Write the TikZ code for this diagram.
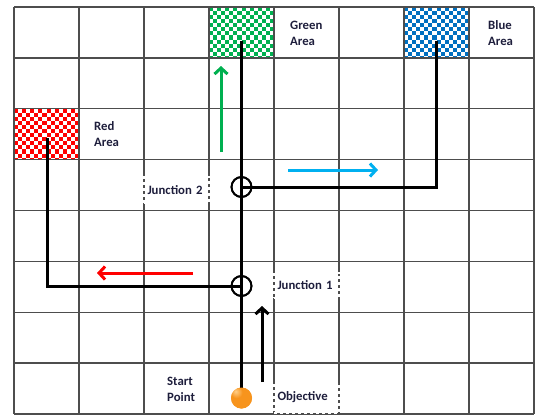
\documentclass[tikz,border=0pt]{standalone}
\usepackage{fontspec}
\setmainfont{Carlito}
\usetikzlibrary{arrows.meta}

\definecolor{gridc}{HTML}{4D4D4D}
\definecolor{labc}{HTML}{1E1E3C}
\definecolor{greenc}{HTML}{00B050}
\definecolor{bluec}{HTML}{0070C0}
\definecolor{skyc}{HTML}{00B0F0}
\definecolor{redc}{HTML}{FF0000}
\definecolor{ballhi}{HTML}{FFD08A}
\definecolor{ballmid}{HTML}{F7941D}
\definecolor{balldark}{HTML}{D86E08}

% glossy orange sphere, highlight towards the upper left
\pgfdeclareradialshading{orangeball}{\pgfpoint{-14bp}{16bp}}{%
  color(0bp)=(ballhi); color(14bp)=(ballmid); color(48bp)=(ballmid);
  color(66bp)=(balldark); color(100bp)=(balldark)}

% checkerboard fill of one grid cell: left, top, colour
\newcommand\checkercell[3]{%
  \begin{scope}
    \clip (#1,#2) rectangle ++(65,50.875);
    \foreach \j in {0,...,12}{
      \foreach \i in {0,...,15}{
        \ifodd\numexpr\i+\j\relax\else
          \fill[#3] ({#1+\i*4.0625},{#2+\j*4.07}) rectangle ++(4.0625,4.07);
        \fi
      }
    }
  \end{scope}}

\begin{document}
\begin{tikzpicture}[x=1bp,y=-1bp,
  gridline/.style={draw=gridc, line width=1.3bp},
  areabox/.style={rectangle, minimum width=65bp, minimum height=50.875bp, inner sep=0pt},
  route/.style={line width=3bp, black},
  junc/.style={circle, draw=black, line width=1.8bp, minimum size=20bp, inner sep=0pt},
  startball/.style={circle, inner sep=0pt, minimum size=21bp, shading=orangeball},
  dirarrow/.style={line width=3bp, -{Straight Barb[length=6bp,width=13bp]}},
  lab/.style={font=\fontsize{12.8}{16}\selectfont\bfseries, text=labc, inner sep=0pt, align=left},
  labbox/.style={lab, draw=white, dashed, line width=2bp, minimum width=65bp,
                 text width=58bp, inner xsep=3.5bp, align=left}]

\useasboundingbox (0,0) rectangle (538,418);
\fill[white] (0,0) rectangle (538,418);

% coloured target cells
\checkercell{209}{7}{greenc}
\checkercell{404}{7}{bluec}
\checkercell{14}{108.75}{redc}

% grid 8 x 8
\foreach \c in {0,...,8}
  \draw[gridline] ({14+65*\c},7) -- ({14+65*\c},414);
\foreach \r in {0,...,8}
  \draw[gridline] (14,{7+50.875*\r}) -- (534,{7+50.875*\r});

% target areas
\node[areabox] (greenarea) at (241.5,32.44) {};
\node[areabox] (bluearea) at (436.5,32.44) {};
\node[areabox] (redarea) at (46.5,134.19) {};

% route end points inside the areas
\coordinate (gtop) at (241.5,41);
\coordinate (btop) at (436.5,41);
\coordinate (rtop) at (47,138);

% junctions and start
\node[junc] (j2) at (241.5,187) {};
\node[junc] (j1) at (241.5,286) {};
\node[startball] (start) at (241.5,398) {};

% route
\draw[route] (start.center) -- (gtop);
\draw[route] (j2.center) -| (btop);
\draw[route] (j1.center) -| (rtop);
\node[junc] at (j2) {};
\node[junc] at (j1) {};
\node[startball] at (start) {};

% direction arrows
\coordinate (ga0) at (221,152);  \coordinate (ga1) at (221,66);
\coordinate (sa0) at (288,170);  \coordinate (sa1) at (378,170);
\coordinate (ra0) at (193,273);  \coordinate (ra1) at (97,273);
\coordinate (ka0) at (262,382);  \coordinate (ka1) at (262,306);
\draw[dirarrow, greenc] (ga0) -- (ga1);
\draw[dirarrow, skyc] (sa0) -- (sa1);
\draw[dirarrow, redc] (ra0) -- (ra1);
\draw[dirarrow, black] (ka0) -- (ka1);

% labels
\node[lab, anchor=west] (lgreen) at (290,33) {Green\\Area};
\node[lab, anchor=west] (lblue) at (488,33) {Blue\\Area};
\node[lab, anchor=west] (lred) at (94,134) {Red\\Area};
\node[lab, anchor=west] (lstart) at (167,389.5) {Start\\Point};
\node[labbox, minimum height=26bp] (lj2) at (176.5,190) {Junction 2};
\node[labbox, minimum height=25bp] (lj1) at (306.5,285.5) {Junction 1};
\node[labbox, minimum height=30bp] (lobj) at (306.5,397.5) {Objective};

\end{tikzpicture}
\end{document}
